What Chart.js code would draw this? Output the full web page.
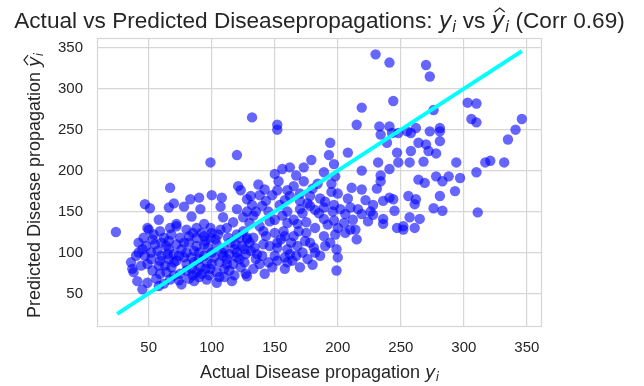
<!DOCTYPE html>
<html>
<head>
<meta charset="utf-8">
<script src="https://cdn.jsdelivr.net/npm/chart.js@4.4.0/dist/chart.umd.min.js"></script>
<style>
  html, body { margin: 0; padding: 0; background: #ffffff; }
  #wrap { width: 644px; height: 386px; }
</style>
</head>
<body>
<div id="wrap"><canvas id="scatterChart" width="644" height="386"></canvas></div>
<script>
// measured disease progression (y) and model prediction (y hat), one entry per patient
const actual = [
  230, 241, 219, 244, 132, 152, 215, 233, 241, 270, 273, 303, 310, 276, 306, 310, 346, 341, 262, 281,
  273, 255, 335, 294, 317, 321, 332, 310, 297, 288, 278, 283, 264, 269, 293, 281, 256, 262, 261, 276,
  283, 311, 257, 265, 245, 244, 252, 248, 258, 281, 264, 270, 281, 258, 272, 278, 247, 248, 257, 268,
  194, 193, 208, 197, 179, 173, 162, 156, 150, 189, 198, 219, 232, 241, 234, 219, 211, 231, 234, 241,
  236, 195, 173, 165, 153, 137, 142, 131, 140, 154, 162, 170, 178, 178, 170, 189, 197, 202, 210, 216,
  219, 206, 197, 189, 236, 133, 156, 175, 168, 239, 234, 243, 152,
  120, 99, 67, 121, 123, 47, 51, 66, 70, 78, 83, 90, 91, 100, 108, 107, 120, 128, 84, 58,
  24, 49, 72, 94, 109, 117, 125,
  50, 59, 42, 53, 67, 72, 80, 88, 99, 105, 112, 120, 128, 47, 57, 65, 72, 78, 86, 94,
  99, 102, 109, 112, 120, 127, 116, 104, 96, 86, 76, 67, 58, 49, 45, 38, 37, 41, 53, 59,
  68, 80, 91, 99, 49, 59, 72, 86, 94, 123,
  128, 142, 135, 133, 158, 170, 180, 199, 200, 199, 215, 210, 200, 189, 181, 178, 160, 158, 167, 152,
  146, 169, 157, 141, 133, 128, 141, 131, 236, 252, 261, 247,
  55, 62, 68, 75, 82, 88, 92, 97, 104, 110, 115, 118, 124, 106, 96, 84, 76, 64, 60, 52,
  45, 40, 44, 63, 75, 85, 92, 104, 110, 117, 122, 127, 118, 110, 98, 70, 80, 90, 100, 113,
  107, 94, 85, 78, 66,
  134, 140, 145, 150, 148, 160, 155, 163, 172, 176, 186, 190, 165, 175, 150, 138, 130, 182, 192, 205,
  212,
  146, 160, 135, 145, 160, 185, 196, 143, 148, 160, 186, 180, 167, 208, 200, 222, 228, 226, 228, 224,
  36, 42, 48, 54, 60, 66, 70, 74, 80, 82, 88, 90, 95, 100, 103, 108, 112, 114, 119, 122,
  125, 100, 95, 88, 82, 70, 64, 56, 62, 74, 90, 106, 114, 120, 126, 46, 52, 58, 66, 84,
  130, 136, 143, 152, 158, 162, 168, 174, 182, 194, 198, 206, 214, 138, 152, 164, 126,
  128, 132, 138, 150, 152, 158, 165, 172, 176, 182, 190, 195, 184, 170
];
const predicted = [
  342, 332, 277, 285, 265, 256, 256, 254, 254, 329, 315, 283, 282, 274, 263, 259, 263, 250, 252, 252,
  248, 248, 238, 210, 210, 212, 210, 198, 191, 193, 193, 187, 189, 185, 175, 169, 169, 165, 159, 154,
  151, 149, 143, 141, 151, 165, 132, 246, 246, 248, 234, 232, 236, 224, 224, 221, 222, 210, 210, 211,
  234, 219, 222, 208, 213, 204, 204, 202, 196, 198, 193, 200, 210, 202, 194, 177, 179, 178, 187, 167,
  163, 174, 187, 181, 187, 183, 177, 169, 157, 158, 169, 163, 169, 157, 153, 155, 158, 153, 155, 153,
  147, 147, 139, 141, 141, 145, 145, 137, 135, 234, 244, 246, 250,
  219, 210, 179, 181, 176, 159, 154, 155, 160, 156, 165, 167, 153, 170, 167, 156, 153, 165, 144, 140,
  125, 130, 135, 135, 143, 137, 143,
  128, 126, 112, 116, 130, 132, 128, 130, 130, 122, 130, 122, 116, 96, 102, 98, 110, 94, 102, 110,
  118, 94, 96, 86, 94, 74, 65, 63, 67, 65, 61, 67, 59, 63, 55, 76, 80, 65, 78, 74,
  82, 78, 82, 80, 86, 90, 90, 88, 96, 82,
  71, 74, 92, 80, 80, 82, 85, 78, 94, 104, 116, 128, 130, 120, 106, 112, 104, 94, 96, 106,
  108, 126, 126, 126, 118, 118, 110, 102, 135, 128, 130, 130,
  110, 118, 122, 118, 112, 118, 124, 106, 110, 104, 112, 104, 108, 88, 88, 94, 104, 108, 96, 92,
  104, 96, 84, 84, 74, 72, 74, 76, 80, 86, 92, 98, 72, 70, 72, 98, 100, 92, 100, 118,
  128, 120, 124, 112, 114,
  106, 96, 88, 96, 82, 88, 116, 112, 100, 92, 96, 108, 120, 124, 124, 132, 136, 130, 134, 136,
  140,
  138, 136, 150, 150, 150, 148, 150, 163, 170, 176, 166, 178, 194, 166, 172, 164, 158, 150, 146, 138,
  88, 100, 108, 122, 112, 104, 88, 96, 86, 120, 108, 100, 114, 124, 116, 100, 92, 98, 110, 118,
  126, 86, 80, 76, 68, 72, 76, 68, 62, 66, 70, 70, 78, 100, 88, 118, 100, 84, 92, 80,
  112, 98, 120, 112, 120, 98, 108, 114, 100, 112, 122, 124, 128, 86, 90, 90, 104,
  150, 158, 170, 140, 176, 164, 140, 148, 160, 152, 162, 184, 184, 172
];
// identity reference line spanning the observed range
const lineEnds = [25, 346];
const xTickValues = [50, 100, 150, 200, 250, 300, 350];
const yTickValues = [50, 100, 150, 200, 250, 300, 350];
const corrValue = 0.69;

const gridColor = '#d6d6d6';
const textColor = '#262626';
const sansFont = '"Liberation Sans", Arial, sans-serif';
const mathFont = '"DejaVu Sans", sans-serif';

const scatterPoints = actual.map((v, i) => ({ x: v, y: predicted[i] }));
const linePoints = lineEnds.map(v => ({ x: v, y: v }));

// draws a run of text pieces (plain / math italic / subscript / hat) centred on x
function drawRich(ctx, parts, x, y) {
  let total = 0;
  parts.forEach(p => { ctx.font = p.font; p.w = ctx.measureText(p.text).width; total += p.w; });
  let cx = x - total / 2;
  ctx.textBaseline = 'alphabetic';
  ctx.textAlign = 'left';
  parts.forEach(p => {
    ctx.font = p.font;
    ctx.fillText(p.text, cx, y + (p.dy || 0));
    if (p.hat) {
      ctx.save();
      ctx.lineWidth = 1.2;
      ctx.strokeStyle = ctx.fillStyle;
      const hx = cx + p.w / 2 + 1.5;
      const top = y - p.hat;
      ctx.beginPath();
      ctx.moveTo(hx - 5, top + 4);
      ctx.lineTo(hx, top);
      ctx.lineTo(hx + 5, top + 4);
      ctx.stroke();
      ctx.restore();
    }
    cx += p.w;
  });
}

const labelsPlugin = {
  id: 'labelsPlugin',
  beforeDatasetsDraw(chart) {
    const { ctx, chartArea: a } = chart;
    ctx.save();
    ctx.strokeStyle = gridColor;
    ctx.lineWidth = 1.2;
    ctx.strokeRect(a.left + 0.5, a.top + 0.5, a.right - a.left - 1, a.bottom - a.top - 1);
    ctx.restore();
  },
  afterDraw(chart) {
    const { ctx, chartArea: a } = chart;
    const mid = (a.left + a.right) / 2;
    ctx.save();
    ctx.fillStyle = textColor;

    drawRich(ctx, [
      { text: 'Actual vs Predicted Diseasepropagations: ', font: '22.6px ' + sansFont },
      { text: 'y', font: 'italic 22.6px ' + mathFont },
      { text: 'i', font: 'italic 15.5px ' + mathFont, dy: 4 },
      { text: ' vs ', font: '22.6px ' + sansFont },
      { text: 'y', font: 'italic 22.6px ' + mathFont, hat: 20 },
      { text: 'i', font: 'italic 15.5px ' + mathFont, dy: 4 },
      { text: ' (Corr ' + corrValue.toFixed(2) + ')', font: '22.6px ' + sansFont }
    ], mid, 28);

    drawRich(ctx, [
      { text: 'Actual Disease propagation ', font: '18px ' + sansFont },
      { text: 'y', font: 'italic 18px ' + mathFont },
      { text: 'i', font: 'italic 12px ' + mathFont, dy: 3 }
    ], mid, 378);

    ctx.translate(40, (a.top + a.bottom) / 2 + 3);
    ctx.rotate(-Math.PI / 2);
    drawRich(ctx, [
      { text: 'Predicted Disease propagation ', font: '18px ' + sansFont },
      { text: 'y', font: 'italic 18px ' + mathFont, hat: 16 },
      { text: 'i', font: 'italic 12px ' + mathFont, dy: 3 }
    ], 0, 0);
    ctx.restore();
  }
};

new Chart(document.getElementById('scatterChart'), {
  type: 'scatter',
  data: {
    datasets: [
      {
        type: 'line',
        data: linePoints,
        borderColor: '#00ffff',
        borderWidth: 4,
        pointRadius: 0,
        fill: false,
        order: 0
      },
      {
        data: scatterPoints,
        backgroundColor: 'rgba(0, 0, 255, 0.6)',
        borderWidth: 0,
        pointRadius: 5.2,
        order: 1
      }
    ]
  },
  options: {
    responsive: false,
    animation: false,
    devicePixelRatio: 1,
    layout: { padding: { top: 38, right: 102, left: 0, bottom: 0 } },
    plugins: { legend: { display: false }, tooltip: { enabled: false }, title: { display: false } },
    scales: {
      x: {
        type: 'linear',
        min: 9,
        max: 362,
        afterBuildTicks: s => { s.ticks = xTickValues.map(v => ({ value: v })); },
        afterFit: s => { s.height = 59; },
        grid: { color: gridColor, lineWidth: 1.2, drawTicks: false },
        border: { display: false },
        ticks: { color: textColor, font: { family: sansFont, size: 15 }, padding: 12 }
      },
      y: {
        type: 'linear',
        min: 9,
        max: 362,
        afterBuildTicks: s => { s.ticks = yTickValues.map(v => ({ value: v })); },
        afterFit: s => { s.width = 97; },
        grid: { color: gridColor, lineWidth: 1.2, drawTicks: false },
        border: { display: false },
        ticks: { color: textColor, font: { family: sansFont, size: 15 }, padding: 14 }
      }
    }
  },
  plugins: [labelsPlugin]
});
</script>
</body>
</html>
